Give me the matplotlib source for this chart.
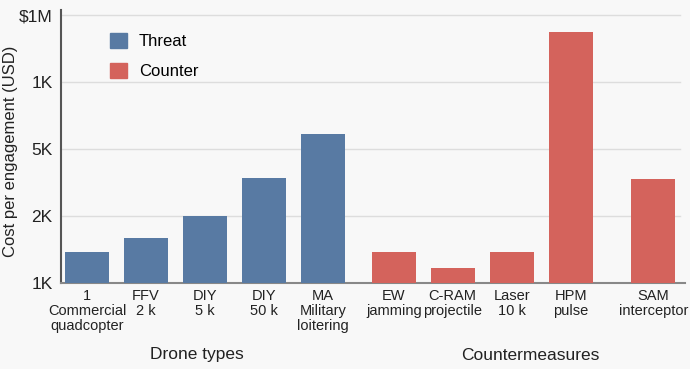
import matplotlib
matplotlib.use("Agg")
import matplotlib.pyplot as plt
from matplotlib.patches import Patch

plt.rcParams['font.family'] = ['Liberation Sans', 'DejaVu Sans']

# bar labels, groups and heights (in tick-step units)
threat_labels = ['1\nCommercial\nquadcopter', 'FFV\n2 k', 'DIY\n5 k', 'DIY\n50 k',
                 'MA\nMilitary\nloitering']
threat_vals = [0.46, 0.67, 1.0, 1.57, 2.22]

counter_labels = ['EW\njamming', 'C-RAM\nprojectile', 'Laser\n10 k', 'HPM\npulse',
                  'SAM\ninterceptor']
counter_vals = [0.46, 0.22, 0.46, 3.75, 1.55]

ytick_labels = ['1K', '2K', '5K', '1K', '$1M']
group_names = ['Drone types', 'Countermeasures']

threat_color = '#587aa3'
counter_color = '#d4635c'
bg = '#f8f8f8'

# x slots: threats evenly spaced, then a gap, counters, bigger gap before SAM
threat_x = [0, 1, 2, 3, 4]
counter_x = [5.2, 6.2, 7.2, 8.2, 9.6]

fig = plt.figure(figsize=(6.9, 3.69), dpi=100, facecolor=bg)
ax = fig.add_axes([0.0884, 0.233, 0.9046, 0.740])
ax.set_facecolor(bg)

ax.bar(threat_x, threat_vals, width=0.75, color=threat_color, zorder=3)
ax.bar(counter_x, counter_vals, width=0.75, color=counter_color, zorder=3)

ax.set_xlim(-0.44, 10.14)
ax.set_ylim(0, 4.08)

ax.set_yticks(range(len(ytick_labels)))
ax.set_yticklabels(ytick_labels, fontsize=12.5, color='#222222')
ax.tick_params(axis='y', length=0, pad=6)
for v in range(1, len(ytick_labels)):
    ax.plot([-0.44, 10.05], [v, v], color='#dddddd', lw=1, zorder=1)

ax.set_xticks(threat_x + counter_x)
ax.set_xticklabels(threat_labels + counter_labels, fontsize=10.5, color='#222222',
                   linespacing=1.1)
ax.tick_params(axis='x', length=0, pad=4)

for s in ['top', 'right']:
    ax.spines[s].set_visible(False)
ax.spines['left'].set_color('#555555')
ax.spines['left'].set_linewidth(1.5)
ax.spines['bottom'].set_color('#888888')
ax.spines['bottom'].set_linewidth(1.5)

fig.text(11 / 690, 1 - 151 / 369, 'Cost per engagement (USD)', rotation=90,
         fontsize=12, ha='center', va='center', color='#222222')

fig.text(197 / 690, 1 - 355 / 369, group_names[0], fontsize=12.5, ha='center',
         va='center', color='#222222')
fig.text(530 / 690, 1 - 355 / 369, group_names[1], fontsize=12.5, ha='center',
         va='center', color='#222222')

handles = [Patch(color=threat_color, label='Threat'),
           Patch(color=counter_color, label='Counter')]
ax.legend(handles=handles, loc='upper left', bbox_to_anchor=(0.055, 0.97),
          frameon=False, fontsize=12, handlelength=1.0, handleheight=1.0,
          handletextpad=0.7, labelspacing=0.8)

fig.savefig('out.png', dpi=100, facecolor=bg)
